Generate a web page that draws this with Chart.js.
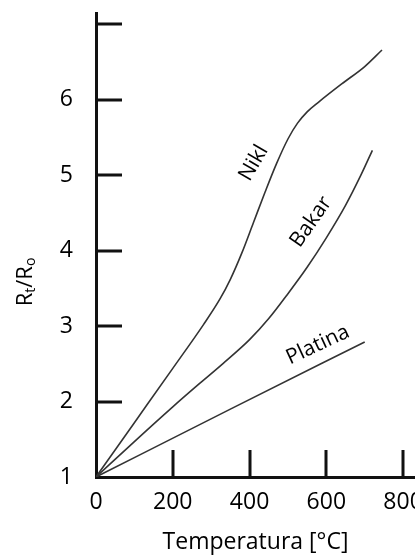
<!DOCTYPE html>
<html><head><meta charset="utf-8">
<script src="https://cdn.jsdelivr.net/npm/chart.js@4"></script>
<style>html,body{margin:0;padding:0;background:#fff}#wrap{width:415px;height:559px;position:relative}</style>
</head><body><div id="wrap"><canvas id="c"></canvas></div>
<script>
const xTicks = [0, 200, 400, 600, 800];
const yTicks = [1, 2, 3, 4, 5, 6, 7];
const yTickLabels = ['1', '2', '3', '4', '5', '6', ''];
const niklX = [0, 100, 200, 280, 323, 350, 380, 410, 440, 470, 500, 525, 550, 580, 640, 700, 745];
const niklY = [1, 1.72, 2.44, 3.02, 3.36, 3.62, 3.97, 4.37, 4.77, 5.15, 5.48, 5.69, 5.84, 5.97, 6.21, 6.44, 6.66];
const bakarX = [0, 100, 200, 270, 330, 400, 450, 500, 550, 600, 650, 690, 720];
const bakarY = [1, 1.47, 1.93, 2.24, 2.5, 2.82, 3.1, 3.43, 3.78, 4.17, 4.6, 5.0, 5.33];
const platinaX = [0, 350, 700];
const platinaY = [1, 1.9, 2.79];
const seriesNames = ['Nikl', 'Bakar', 'Platina'];
const nameX = [411, 560, 578];
const nameY = [5.16, 4.38, 2.75];
const nameAngle = [-60, -55, -25];
const xTitle = 'Temperatura [°C]';

const FONT = "'Open Sans', sans-serif";
const INK = '#000';
const pts = (xs, ys) => xs.map((x, i) => ({x, y: ys[i]}));

const extras = {
  id: 'extras',
  afterDraw(chart) {
    const ctx = chart.ctx, xs = chart.scales.x, ys = chart.scales.y, a = chart.chartArea;
    ctx.save();
    ctx.strokeStyle = '#111';
    ctx.lineWidth = 3;
    ctx.beginPath();
    xTicks.forEach(v => {
      if (v === xs.min) return;
      const px = Math.round(xs.getPixelForValue(v));
      ctx.moveTo(px, a.bottom); ctx.lineTo(px, a.bottom - 27);
    });
    yTicks.forEach(v => {
      if (v === ys.min) return;
      const py = Math.round(ys.getPixelForValue(v));
      ctx.moveTo(a.left, py); ctx.lineTo(a.left + 26, py);
    });
    ctx.stroke();
    // series names
    ctx.fillStyle = INK;
    ctx.font = '21px ' + FONT;
    ctx.textAlign = 'center';
    ctx.textBaseline = 'middle';
    seriesNames.forEach((n, i) => {
      ctx.save();
      ctx.translate(xs.getPixelForValue(nameX[i]), ys.getPixelForValue(nameY[i]));
      ctx.rotate(nameAngle[i] * Math.PI / 180);
      ctx.fillText(n, 0, 0);
      ctx.restore();
    });
    // y title with subscripts
    const parts = [['R', 22, 0], ['t', 14, 5], ['/', 22, 0], ['R', 22, 0], ['o', 14, 5]];
    let w = 0;
    parts.forEach(p => { ctx.font = p[1] + 'px ' + FONT; w += ctx.measureText(p[0]).width; });
    ctx.save();
    ctx.translate(26, 282);
    ctx.rotate(-Math.PI / 2);
    ctx.textAlign = 'left';
    ctx.textBaseline = 'middle';
    let cx = -w / 2;
    parts.forEach(p => {
      ctx.font = p[1] + 'px ' + FONT;
      ctx.fillText(p[0], cx, p[2]);
      cx += ctx.measureText(p[0]).width;
    });
    ctx.restore();
    ctx.restore();
  }
};

const lineDs = (label, data) => ({
  label, data, borderColor: '#333', borderWidth: 1.6, pointRadius: 0,
  cubicInterpolationMode: 'monotone', fill: false
});

new Chart(document.getElementById('c'), {
  type: 'line',
  data: {
    datasets: [
      lineDs(seriesNames[0], pts(niklX, niklY)),
      lineDs(seriesNames[1], pts(bakarX, bakarY)),
      lineDs(seriesNames[2], pts(platinaX, platinaY))
    ]
  },
  options: {
    responsive: true, maintainAspectRatio: false, animation: false,
    layout: {padding: {top: 13, right: 0, left: 0, bottom: 0}},
    plugins: {legend: {display: false}, tooltip: {enabled: false}},
    scales: {
      x: {
        type: 'linear', min: 0, max: 831,
        grid: {display: false, drawTicks: false},
        border: {color: '#111', width: 3},
        afterBuildTicks: s => { s.ticks = xTicks.map(v => ({value: v})); },
        afterFit: s => { s.height = 82; s.paddingLeft = 0; s.paddingRight = 0; },
        ticks: {padding: 12, color: INK, font: {family: FONT, size: 23}, maxRotation: 0, autoSkip: false,
          callback: v => String(v)},
        title: {display: true, text: xTitle, color: INK, font: {family: FONT, size: 23}, padding: {top: 0, bottom: 3}}
      },
      y: {
        type: 'linear', min: 1, max: 7.15,
        grid: {display: false, drawTicks: false},
        border: {color: '#111', width: 3},
        afterBuildTicks: s => { s.ticks = yTicks.map(v => ({value: v})); },
        afterFit: s => { s.width = 96; s.paddingTop = 0; s.paddingBottom = 0; },
        ticks: {padding: 23, color: INK, font: {family: FONT, size: 23}, autoSkip: false,
          callback: (v, i) => yTickLabels[i]}
      }
    }
  },
  plugins: [extras]
});
</script>
</body></html>
